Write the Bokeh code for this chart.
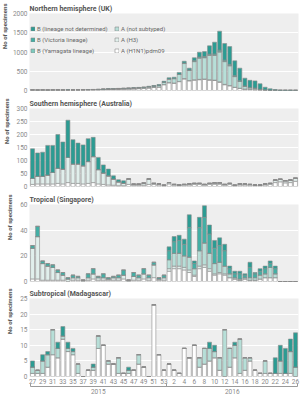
from bokeh.plotting import figure
from bokeh.layouts import column
from bokeh.models import (ColumnDataSource, Range1d, FixedTicker, LinearAxis,
                          Legend, LegendItem, Title)
from bokeh.embed import file_html
from bokeh.resources import INLINE

FONT = "Roboto"

# ---------------- data ----------------
week_labels = ["27", "28", "29", "30", "31", "32", "33", "34", "35", "36", "37", "38", "39",
               "40", "41", "42", "43", "44", "45", "46", "47", "48", "49", "50", "51", "52", "53",
               "1", "2", "3", "4", "5", "6", "7", "8", "9", "10", "11", "12", "13", "14", "15",
               "16", "17", "18", "19", "20", "21", "22", "23", "24", "25", "26"]
year_labels = ["2015", "2016"]

series_keys = ["h1n1", "h3", "ans", "byam", "bvic", "bnd"]   # bottom -> top
series_names = ["A (H1N1)pdm09", "A (H3)", "A (not subtyped)",
                "B (Yamagata lineage)", "B (Victoria lineage)", "B (lineage not determined)"]
series_colors = ["#ffffff", "#e1efec", "#b7dfd8", "#7ccabe", "#43afa5", "#2b9c93"]

# Northern hemisphere (UK)
uk_h1n1 = [9, 7, 8, 7, 8, 9, 8, 11, 10, 12, 13, 15, 17, 18, 23, 27, 30, 33, 36, 39, 43, 48, 54, 66,
           80, 90, 150, 200, 190, 230, 300, 250, 270, 280, 290, 270, 260, 216, 150, 120, 80, 55, 35, 25,
           20, 12, 8, 4, 3, 2, 2, 2, 2]
uk_h3 = [1, 1, 1, 1, 1, 1, 1, 1, 1, 1, 1, 2, 2, 2, 2, 3, 3, 3, 3, 4, 4, 4, 5, 5,
         3, 3, 5, 5, 5, 5, 10, 10, 10, 10, 10, 10, 10, 10, 10, 10, 5, 5, 3, 2,
         2, 1, 1, 0, 0, 0, 0, 0, 0]
uk_ans = [3, 3, 3, 3, 3, 3, 3, 4, 3, 5, 5, 5, 6, 7, 9, 10, 11, 13, 14, 15, 17, 19, 21, 26,
          30, 40, 60, 95, 115, 185, 390, 260, 470, 550, 550, 630, 640, 770, 590, 510, 275, 175, 67, 43,
          33, 19, 9, 5, 2, 1, 1, 1, 1]
uk_byam = [0, 0, 0, 0, 0, 0, 0, 0, 0, 0, 0, 0, 0, 0, 0, 0, 0, 0, 0, 0, 0, 0, 0, 0,
           0, 0, 0, 0, 0, 0, 5, 5, 10, 10, 10, 10, 10, 15, 10, 10, 5, 5, 3, 3,
           2, 0, 0, 0, 0, 0, 0, 0, 0]
uk_bvic = [0, 0, 0, 0, 0, 0, 0, 0, 0, 0, 0, 0, 0, 0, 0, 0, 0, 0, 0, 0, 0, 0, 0, 0,
           0, 0, 0, 0, 0, 0, 10, 10, 15, 20, 20, 25, 30, 40, 30, 30, 20, 15, 10, 8,
           8, 0, 0, 0, 0, 0, 0, 0, 0]
uk_bnd = [2, 1, 2, 1, 2, 2, 1, 2, 2, 2, 3, 3, 3, 3, 4, 5, 6, 6, 7, 7, 8, 9, 10, 13,
          17, 22, 25, 30, 35, 50, 45, 45, 75, 125, 130, 215, 305, 489, 430, 460, 385, 325, 202, 184,
          185, 143, 67, 36, 20, 9, 7, 7, 5]

# Southern hemisphere (Australia)
au_h1n1 = [8, 10, 10, 10, 10, 12, 10, 15, 12, 12, 10, 12, 15, 10, 8, 6, 5, 3, 3, 8, 5, 5, 5, 8,
           8, 6, 3, 10, 5, 4, 5, 6, 8, 8, 5, 8, 9, 9, 5, 8, 3, 6, 6, 5, 4, 4, 6, 8, 15, 18, 14, 15, 20]
au_h3 = [23, 29, 29, 34, 44, 58, 57, 97, 75, 75, 70, 84, 100, 55, 44, 35, 24, 15, 10, 21, 4, 4, 8, 21,
         4, 4, 2, 5, 3, 2, 3, 4, 4, 4, 3, 4, 5, 5, 3, 4, 2, 4, 4, 3, 2, 2, 4, 4, 10, 10, 8, 10, 12]
au_ans = [0] * 53
au_byam = [0] * 53
au_bvic = [0] * 53
au_bnd = [114, 90, 93, 114, 104, 130, 104, 143, 93, 80, 80, 88, 74, 47, 31, 26, 12, 8, 9, 0, 0, 0, 0, 0,
          0, 0, 0, 0, 0, 0, 0, 0, 0, 0, 0, 0, 0, 0, 0, 0, 0, 0, 0, 0, 0, 0, 0, 0, 0, 0, 0, 0, 0]

# Tropical (Singapore)
sg_h1n1 = [2, 2, 1, 1, 1, 1, 1, 0, 1, 1, 0, 1, 2, 1, 1, 1, 1, 1, 2, 0, 1, 1, 2, 1, 3, 1, 1,
           8, 10, 10, 9, 7, 4, 10, 11, 8, 5, 6, 5, 3, 2, 1, 2, 1, 1, 2, 3, 3, 3, 0, 0, 0, 0]
sg_h3 = [24, 33, 13, 11, 10, 6, 4, 2, 2, 2, 1, 2, 4, 2, 2, 1, 2, 2, 3, 1, 3, 2, 4, 2, 10, 1, 2,
         2, 2, 2, 2, 2, 1, 2, 2, 2, 1, 1, 1, 0, 0, 0, 0, 0, 0, 0, 0, 0, 0, 0, 0, 0, 0]
sg_ans = [0, 0, 0, 0, 0, 0, 0, 0, 0, 0, 0, 0, 0, 0, 0, 0, 0, 0, 0, 0, 0, 0, 0, 0, 0, 0, 0,
          7, 10, 10, 9, 10, 5, 12, 17, 12, 8, 8, 6, 3, 1, 1, 1, 2, 2, 3, 3, 8, 3, 0, 0, 0, 0]
sg_byam = [0] * 53
sg_bvic = [2, 8, 2, 2, 2, 2, 2, 1, 2, 1, 0, 3, 4, 1, 3, 1, 1, 2, 4, 0, 3, 2, 4, 2, 2, 1, 2,
           7, 9, 10, 9, 23, 4, 18, 20, 15, 12, 13, 12, 4, 3, 4, 2, 8, 3, 3, 4, 3, 4, 0, 0, 0, 0]
sg_bnd = [0, 0, 0, 0, 0, 0, 0, 0, 0, 0, 0, 0, 0, 0, 0, 0, 0, 0, 0, 0, 0, 0, 0, 0, 0, 0, 0,
          3, 4, 4, 4, 10, 2, 8, 9, 7, 6, 6, 5, 2, 2, 2, 1, 4, 1, 2, 2, 2, 2, 0, 0, 0, 0]

# Subtropical (Madagascar)
mg_h1n1 = [1, 1, 1, 3, 7, 6, 12, 8, 7, 1, 0, 2, 2, 9, 10, 4, 4, 1, 1, 1, 2, 4, 3, 0,
           23, 7, 2, 4, 2, 1, 9, 6, 10, 3, 4, 5, 6, 2, 0, 3, 6, 1, 2, 5, 2, 1, 1, 1, 1, 1, 1, 1, 0]
mg_h3 = [0] * 53
mg_ans = [2, 1, 4, 4, 8, 3, 1, 1, 1, 3, 0, 0, 1, 4, 0, 1, 0, 5, 0, 1, 0, 3, 0, 0,
          0, 0, 0, 0, 0, 0, 0, 0, 0, 3, 5, 4, 2, 4, 15, 6, 4, 11, 4, 1, 0, 0, 4, 0, 0, 4, 0, 7, 3]
mg_byam = [0] * 53
mg_bvic = [0] * 53
mg_bnd = [2, 0, 2, 1, 0, 2, 3, 2, 1, 0, 0, 0, 1, 0, 0, 0, 0, 0, 0, 1, 0, 0, 0, 0,
          0, 0, 0, 0, 0, 0, 0, 0, 0, 0, 0, 2, 2, 0, 0, 0, 1, 0, 0, 0, 0, 0, 0, 0, 5, 5, 8, 4, 11]

titles = ["Northern hemisphere (UK)", "Southern hemisphere (Australia)",
          "Tropical (Singapore)", "Subtropical (Madagascar)"]
y_label = "No of specimens"
y_max = [2000, 300, 60, 25]
y_ticks = [[0, 500, 1000, 1500, 2000], [0, 50, 100, 150, 200, 250, 300],
           [0, 20, 40, 60], [0, 5, 10, 15, 20, 25]]

x_idx = list(range(len(week_labels)))

panels_data = [
    dict(h1n1=uk_h1n1, h3=uk_h3, ans=uk_ans, byam=uk_byam, bvic=uk_bvic, bnd=uk_bnd),
    dict(h1n1=au_h1n1, h3=au_h3, ans=au_ans, byam=au_byam, bvic=au_bvic, bnd=au_bnd),
    dict(h1n1=sg_h1n1, h3=sg_h3, ans=sg_ans, byam=sg_byam, bvic=sg_bvic, bnd=sg_bnd),
    dict(h1n1=mg_h1n1, h3=mg_h3, ans=mg_ans, byam=mg_byam, bvic=mg_bvic, bnd=mg_bnd),
]

# ---------------- layout ----------------
frame_h = [77, 78, 77, 78]
top_b = [13, 13, 13, 12]
bot_b = [5, 5, 5, 25]
ylab_pad = [0, 3, 6, 6]

GREY_TXT = "#8a8a8a"


def make_panel(k):
    last = (k == 3)
    p = figure(frame_width=269, frame_height=frame_h[k],
               x_range=Range1d(-0.6, 52.6), y_range=Range1d(0, y_max[k]),
               x_axis_type=("linear" if last else None),
               title=titles[k],
               output_backend="svg", toolbar_location=None,
               min_border_left=27, min_border_right=4,
               min_border_top=top_b[k], min_border_bottom=bot_b[k],
               background_fill_color="#eeeeee", border_fill_color="white",
               outline_line_color=None)
    t = p.title
    t.text_font = FONT
    t.text_font_size = "7px"
    t.text_font_style = "bold"
    t.text_color = "#555555"
    t.align = "left"
    t.standoff = 2
    t.offset = 0

    src = ColumnDataSource(dict(x=x_idx, **panels_data[k]))
    rs = p.vbar_stack(series_keys, x="x", width=0.78, source=src,
                      fill_color=series_colors, line_color="#8c8c8c", line_width=0.6)

    ya = p.yaxis[0]
    ya.ticker = FixedTicker(ticks=y_ticks[k])
    ya.major_tick_line_color = None
    ya.minor_tick_line_color = None
    ya.major_tick_out = 0
    ya.major_tick_in = 0
    ya.minor_tick_out = 0
    ya.minor_tick_in = 0
    ya.axis_line_color = None
    ya.major_label_text_font = FONT
    ya.major_label_text_font_size = "6.5px"
    ya.major_label_text_color = GREY_TXT
    ya.major_label_standoff = 2

    ylab = Title(text=y_label, align="right", vertical_align="top", offset=-10,
                 standoff=ylab_pad[k], text_font=FONT, text_font_size="6px",
                 text_font_style="bold", text_color="#555555")
    p.add_layout(ylab, "left")

    p.ygrid.grid_line_color = "white"
    p.ygrid.grid_line_width = 1
    p.ygrid.ticker = FixedTicker(ticks=y_ticks[k])

    if last:
        p.xgrid.visible = False
        xa = p.xaxis[0]
        xa.ticker = FixedTicker(ticks=list(range(0, 53, 2)))
        xa.major_label_overrides = {i: week_labels[i] for i in range(0, 53, 2)}
        xa.major_tick_line_color = None
        xa.minor_tick_line_color = None
        xa.major_tick_out = 0
        xa.major_tick_in = 0
        xa.minor_tick_out = 0
        xa.minor_tick_in = 0
        xa.axis_line_color = None
        xa.major_label_text_font = FONT
        xa.major_label_text_font_size = "6.5px"
        xa.major_label_text_color = GREY_TXT
        xa.major_label_standoff = 2

        ya2 = LinearAxis(ticker=FixedTicker(ticks=[13, 39.5], minor_ticks=[-0.4, 26.5, 52.4]),
                         bounds=(-0.4, 52.4),
                         major_label_overrides={13: year_labels[0], 39.5: year_labels[1]},
                         major_tick_in=0, major_tick_out=0,
                         minor_tick_in=3, minor_tick_out=0,
                         axis_line_color="#9a9a9a", minor_tick_line_color="#9a9a9a",
                         major_label_text_font=FONT, major_label_text_font_size="6.5px",
                         major_label_text_color=GREY_TXT, major_label_standoff=2)
        p.add_layout(ya2, "below")

    if k == 0:
        common = dict(background_fill_alpha=0, border_line_color=None,
                      label_text_font=FONT, label_text_font_size="6px",
                      label_text_color="#666666", glyph_width=5, glyph_height=5,
                      label_height=7, label_standoff=2, spacing=4, padding=2, margin=0,
                      orientation="vertical")
        by_name = dict(zip(series_names, rs))
        col1 = ["B (lineage not determined)", "B (Victoria lineage)", "B (Yamagata lineage)"]
        col2 = ["A (not subtyped)", "A (H3)", "A (H1N1)pdm09"]
        leg1 = Legend(items=[LegendItem(label=n, renderers=[by_name[n]]) for n in col1],
                      location=(1, 36), **common)
        leg2 = Legend(items=[LegendItem(label=n, renderers=[by_name[n]]) for n in col2],
                      location=(85, 36), **common)
        p.add_layout(leg1)
        p.add_layout(leg2)
    return p


figs = [make_panel(k) for k in range(4)]
layout = column(*figs, spacing=0)

open("out.html", "w").write(file_html(layout, INLINE))
